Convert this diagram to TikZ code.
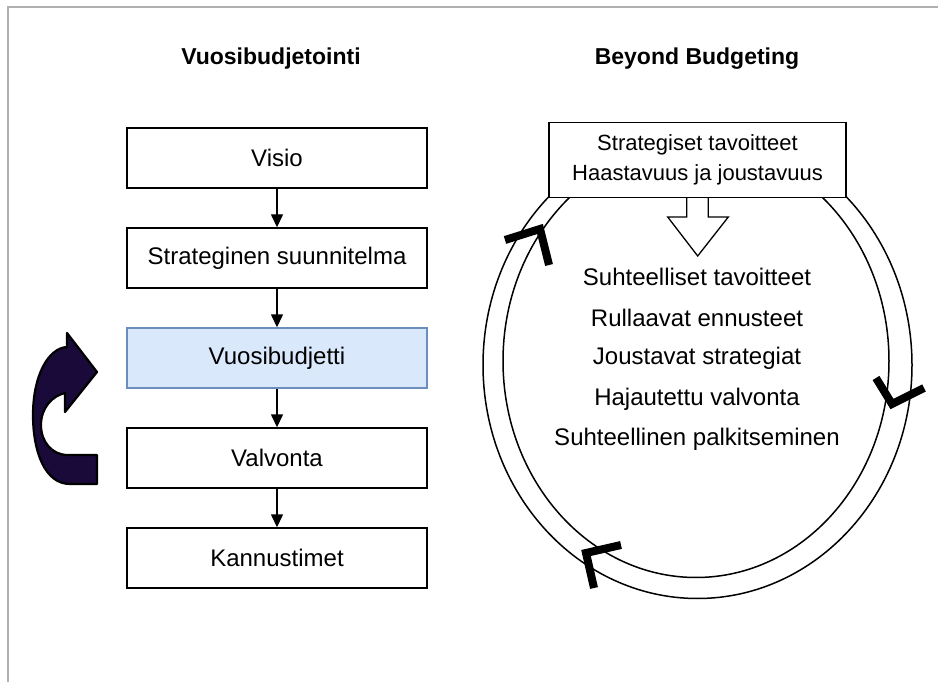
\documentclass[tikz,border=0pt]{standalone}
\usepackage{fontspec}
\setmainfont{Liberation Sans}
\usetikzlibrary{arrows.meta}
\definecolor{bluefill}{HTML}{DAE8FC}
\definecolor{bluedraw}{HTML}{6C8EBF}
\definecolor{navyfill}{HTML}{1A0A3A}
\definecolor{framegray}{HTML}{B0B0B0}
\begin{document}
\begin{tikzpicture}[x=1pt,y=-1pt,
 box/.style={draw, line width=1.4pt, minimum width=300pt, minimum height=60pt, inner sep=0pt, font=\fontsize{24}{28}\selectfont},
 flow/.style={line width=1.4pt, -{Triangle[length=13pt,width=12pt]}},
 titletext/.style={font=\fontsize{23}{27}\selectfont\bfseries, anchor=base},
 item/.style={font=\fontsize{24}{28}\selectfont},
 chev/.style={line width=8pt, line join=miter, line cap=butt},
 ring/.style={line width=1.5pt}]
\useasboundingbox (0,0) rectangle (938,682);
\draw[framegray, line width=2pt] (7.5,682) -- (7.5,7.5) -- (938,7.5);

% titles
\node[titletext] (t1) at (271,65) {Vuosibudjetointi};
\node[titletext] (t2) at (697,65) {Beyond Budgeting};

% left column
\node[box] (b1) at (277,158) {Visio};
\node[box] (b2) at (277,258) {Strateginen suunnitelma};
\node[box, fill=bluefill, draw=bluedraw] (b3) at (277,358) {Vuosibudjetti};
\node[box] (b4) at (277,458) {Valvonta};
\node[box] (b5) at (277,558) {Kannustimet};
\draw[flow] (b1) -- (b2);
\draw[flow] (b2) -- (b3);
\draw[flow] (b3) -- (b4);
\draw[flow] (b4) -- (b5);

% curved arrow on the left
\draw[fill=navyfill, line width=2.2pt, line join=round]
  (97,484) -- (70,484)
  .. controls (45,484) and (33,452) .. (33,415)
  .. controls (33,376) and (48,348) .. (67,347)
  -- (67,333) -- (97,372) -- (65,412) -- (65,393)
  .. controls (52,396) and (41,408) .. (41,425)
  .. controls (41,442) and (52,455) .. (68,455)
  -- (97,455) -- cycle;

% ring
\draw[ring] (697.5,365) ellipse [x radius=214.5pt, y radius=233.5pt];
\draw[ring] (696,361) ellipse [x radius=193pt, y radius=216.5pt];

% block arrow
\draw[fill=white, line width=1.3pt, line join=miter]
  (686.7,196) -- (686.7,217) -- (667.7,217) -- (697.7,256) -- (728.3,217) -- (708.3,217) -- (708.3,196);

% top box
\node[draw, fill=white, line width=1.3pt, minimum width=297pt, minimum height=75pt, inner sep=0pt,
      align=center, font=\fontsize{22}{30}\selectfont] (top) at (697.5,160)
  {Strategiset tavoitteet\\Haastavuus ja joustavuus};

% list
\node[item] (l1) at (697,277) {Suhteelliset tavoitteet};
\node[item] (l2) at (697,318) {Rullaavat ennusteet};
\node[item] (l3) at (697,358) {Joustavat strategiat};
\node[item] (l4) at (697,399) {Hajautettu valvonta};
\node[item] (l5) at (697,439) {Suhteellinen palkitseminen};

% chevrons
\draw[chev] (505,240) -- (540,229) -- (549,265);
\draw[chev] (876,378) -- (892,404) -- (924,388);
\draw[chev] (621,545) -- (586,553) -- (594,588);
\end{tikzpicture}
\end{document}
